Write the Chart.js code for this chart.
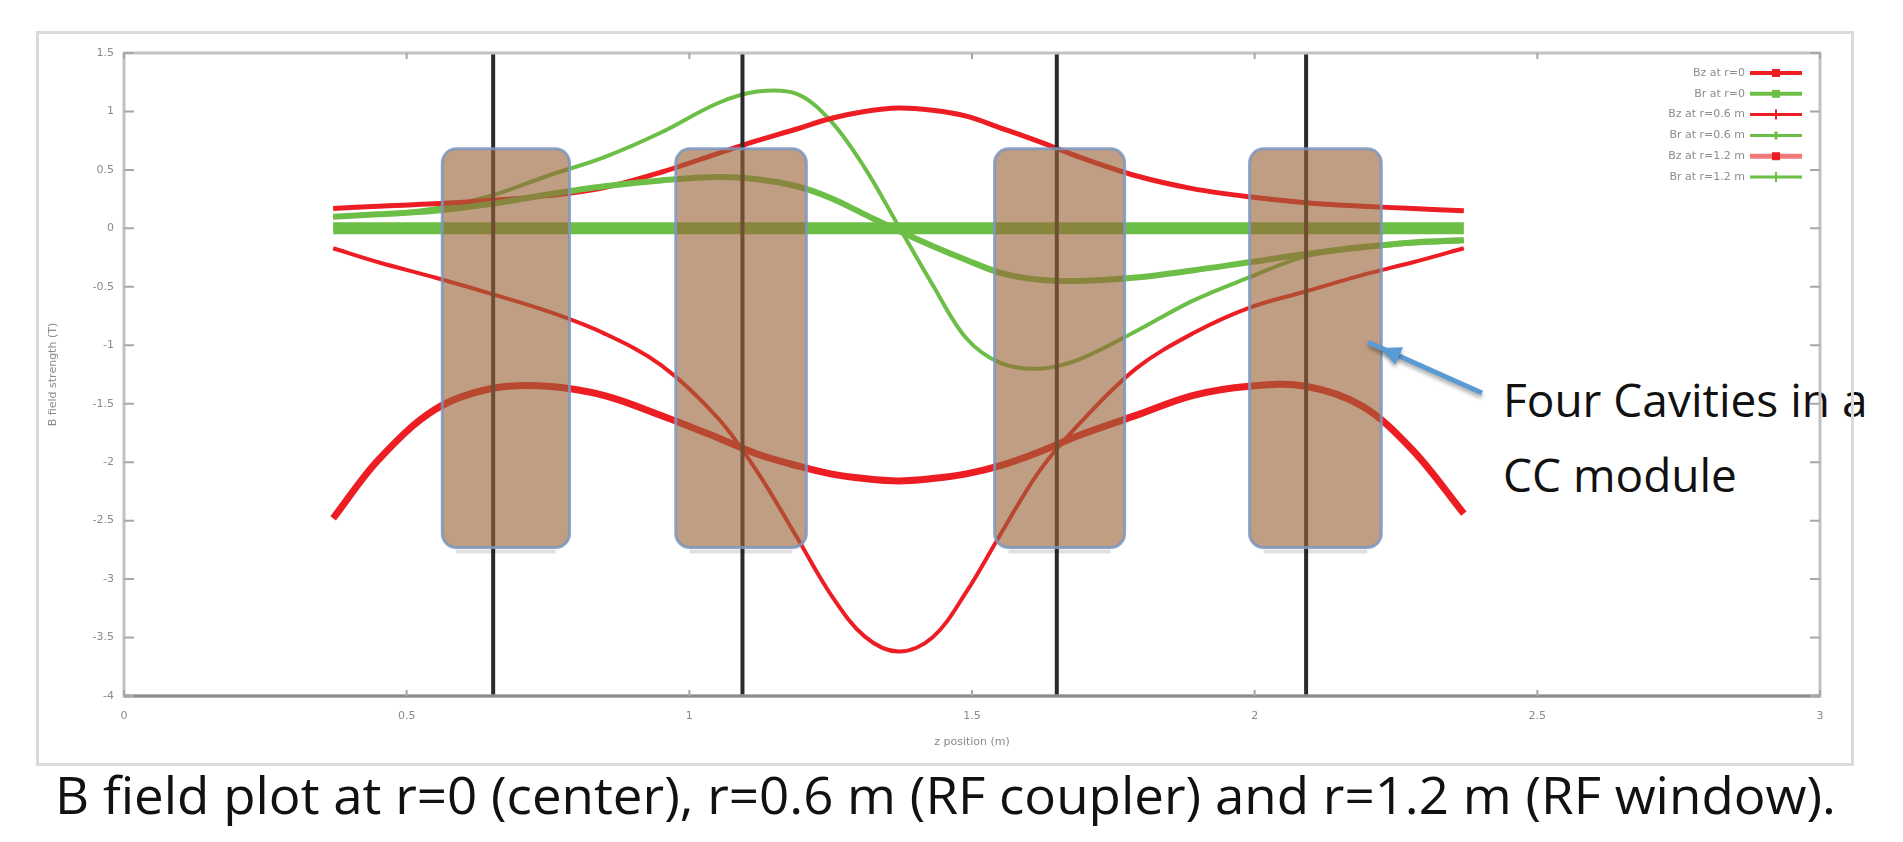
<!DOCTYPE html>
<html>
<head>
<meta charset="utf-8">
<title>B field plot</title>
<script src="https://cdn.jsdelivr.net/npm/chart.js@4.4.0/dist/chart.umd.min.js"></script>
<style>
  html, body { margin: 0; padding: 0; background: #fff; }
  body { width: 1903px; height: 842px; position: relative; overflow: hidden; font-family: "Open Sans", sans-serif; }
  #note { position: absolute; left: 1503px; top: 362px; font-size: 46px; line-height: 75px; color: #111; white-space: nowrap; }
  #wrap { position: absolute; left: 0; top: 0; width: 1903px; height: 842px; }
  #frame { position: absolute; left: 36px; top: 31px; width: 1812px; height: 729px; border: 3px solid #dadada; pointer-events: none; }
  #caption { position: absolute; left: 55px; top: 764px; font-size: 52px; line-height: 60px; color: #111; white-space: nowrap; transform-origin: left top; }
</style>
</head>
<body>
<div id="note">Four Cavities in a<br>CC module</div>
<div id="wrap"><canvas id="myChart" width="1903" height="842"></canvas></div>
<div id="frame"></div>
<div id="caption">B field plot at r=0 (center), r=0.6 m (RF coupler) and r=1.2 m (RF window).</div>
<script>
const zPos = [0.37, 0.45, 0.55, 0.65, 0.75, 0.85, 0.95, 1.05, 1.12, 1.19, 1.25, 1.31, 1.37,
              1.43, 1.49, 1.55, 1.62, 1.69, 1.79, 1.89, 1.99, 2.09, 2.19, 2.28, 2.37];

// field strength (T)
const bzR0  = [-2.48, -1.98, -1.55, -1.37, -1.35, -1.43, -1.60, -1.79, -1.93, -2.03, -2.10, -2.14, -2.16,
               -2.14, -2.10, -2.03, -1.91, -1.77, -1.60, -1.43, -1.35, -1.35, -1.52, -1.90, -2.44];
const brR0  = [0, 0, 0, 0, 0, 0, 0, 0, 0, 0, 0, 0, 0,
               0, 0, 0, 0, 0, 0, 0, 0, 0, 0, 0, 0];
const bzR06 = [-0.17, -0.29, -0.42, -0.56, -0.71, -0.90, -1.17, -1.62, -2.08, -2.64, -3.13, -3.49, -3.62,
               -3.50, -3.11, -2.62, -2.07, -1.67, -1.20, -0.90, -0.68, -0.54, -0.40, -0.29, -0.17];
const brR06 = [0.10, 0.12, 0.15, 0.21, 0.29, 0.36, 0.41, 0.44, 0.42, 0.36, 0.26, 0.12, -0.02,
               -0.15, -0.27, -0.38, -0.44, -0.45, -0.42, -0.36, -0.29, -0.22, -0.16, -0.12, -0.10];
const bzR12 = [0.17, 0.19, 0.21, 0.24, 0.28, 0.35, 0.48, 0.64, 0.75, 0.85, 0.94, 1.00, 1.03,
               1.01, 0.96, 0.86, 0.74, 0.61, 0.45, 0.34, 0.27, 0.22, 0.19, 0.17, 0.15];
const brR12 = [0.10, 0.12, 0.17, 0.28, 0.45, 0.61, 0.82, 1.07, 1.17, 1.15, 0.92, 0.52, 0.02,
               -0.48, -0.94, -1.15, -1.20, -1.12, -0.88, -0.62, -0.42, -0.24, -0.17, -0.13, -0.11];

const seriesLabels = ['Bz at r=0', 'Br at r=0', 'Bz at r=0.6 m', 'Br at r=0.6 m', 'Bz at r=1.2 m', 'Br at r=1.2 m'];

// cavity outlines and the black marker lines (in data units)
const cavityZ = [[0.563, 0.788], [0.976, 1.207], [1.540, 1.770], [1.991, 2.224]];
const cavityB = [-2.73, 0.68];
const markerZ = [0.653, 1.094, 1.650, 2.091];

const RED = 'rgb(236,30,36)';
const GREEN = 'rgb(108,190,70)';

const pts = arr => zPos.map((z, i) => ({ x: z, y: arr[i] }));
const fmt = v => String(Math.round(v * 10) / 10);

const series = [
  { data: bzR0,  color: RED,   width: 7,  legendWidth: 4, marker: 'square' },
  { data: brR0,  color: GREEN, width: 12, legendWidth: 4, marker: 'square' },
  { data: bzR06, color: RED,   width: 4,  legendWidth: 3, marker: 'plus' },
  { data: brR06, color: GREEN, width: 6,  legendWidth: 3, marker: 'bar' },
  { data: bzR12, color: RED,   width: 5,  legendWidth: 5, marker: 'square', legendColor: 'rgb(244,120,120)' },
  { data: brR12, color: GREEN, width: 4,  legendWidth: 3, marker: 'plus' }
];

const extras = {
  id: 'extras',
  afterDatasetsDraw(chart) {
    const { ctx, chartArea: a, scales: { x, y } } = chart;
    ctx.save();

    // black vertical lines
    ctx.strokeStyle = '#2a2a2a';
    ctx.lineWidth = 4;
    markerZ.forEach(z => {
      const px = x.getPixelForValue(z);
      ctx.beginPath();
      ctx.moveTo(px, a.top);
      ctx.lineTo(px, a.bottom);
      ctx.stroke();
    });

    // cavities
    cavityZ.forEach(([z0, z1]) => {
      const l = x.getPixelForValue(z0), r = x.getPixelForValue(z1);
      const t = y.getPixelForValue(cavityB[1]), b = y.getPixelForValue(cavityB[0]);
      // soft shadow under the bottom edge only
      ctx.strokeStyle = 'rgba(0,0,0,0.12)';
      ctx.lineWidth = 4;
      ctx.beginPath();
      ctx.moveTo(l + 14, b + 4);
      ctx.lineTo(r - 14, b + 4);
      ctx.stroke();

      ctx.beginPath();
      ctx.roundRect(l, t, r - l, b - t, 14);
      ctx.fillStyle = 'rgba(153,98,56,0.62)';
      ctx.fill();
      ctx.strokeStyle = 'rgba(125,150,190,0.85)';
      ctx.lineWidth = 3;
      ctx.stroke();
    });

    // plot box
    ctx.lineWidth = 3;
    ctx.strokeStyle = '#c2c2c2';
    ctx.strokeRect(a.left, a.top, a.right - a.left, a.bottom - a.top);
    ctx.strokeStyle = '#8a8a8a';
    ctx.beginPath();
    ctx.moveTo(a.left, a.bottom);
    ctx.lineTo(a.right, a.bottom);
    ctx.stroke();

    // inward ticks
    ctx.strokeStyle = '#a8a8a8';
    ctx.lineWidth = 2;
    y.ticks.forEach(t => {
      const py = y.getPixelForValue(t.value);
      ctx.beginPath();
      ctx.moveTo(a.left, py); ctx.lineTo(a.left + 10, py);
      ctx.moveTo(a.right - 10, py); ctx.lineTo(a.right, py);
      ctx.stroke();
    });
    x.ticks.forEach(t => {
      const px = x.getPixelForValue(t.value);
      ctx.beginPath();
      ctx.moveTo(px, a.bottom); ctx.lineTo(px, a.bottom - 6);
      ctx.moveTo(px, a.top); ctx.lineTo(px, a.top + 6);
      ctx.stroke();
    });
    ctx.restore();
  },
  afterDraw(chart) {
    const { ctx, chartArea: a } = chart;
    ctx.save();

    // legend, top right inside the plot
    ctx.font = '11px "DejaVu Sans"';
    ctx.textAlign = 'right';
    ctx.textBaseline = 'middle';
    series.forEach((s, i) => {
      const yy = a.top + 20 + i * 20.8;
      const x1 = a.right - 70, x2 = a.right - 18, xm = (x1 + x2) / 2;
      ctx.fillStyle = '#8c8c8c';
      ctx.fillText(seriesLabels[i], x1 - 5, yy);
      ctx.strokeStyle = s.legendColor || s.color;
      ctx.lineWidth = s.legendWidth;
      ctx.beginPath();
      ctx.moveTo(x1, yy); ctx.lineTo(x2, yy);
      ctx.stroke();
      ctx.fillStyle = s.color;
      ctx.strokeStyle = s.color;
      if (s.marker === 'square') {
        ctx.fillRect(xm - 4, yy - 4, 8, 8);
      } else if (s.marker === 'plus') {
        ctx.lineWidth = 2;
        ctx.beginPath();
        ctx.moveTo(xm, yy - 5); ctx.lineTo(xm, yy + 5);
        ctx.stroke();
      } else {
        ctx.lineWidth = 3;
        ctx.beginPath();
        ctx.moveTo(xm, yy - 4); ctx.lineTo(xm, yy + 4);
        ctx.stroke();
      }
    });

    // arrow pointing at the last cavity
    const tail = { x: 1482, y: 393 }, head = { x: 1381, y: 348 };
    const ang = Math.atan2(head.y - tail.y, head.x - tail.x);
    ctx.shadowColor = 'rgba(0,0,0,0.35)';
    ctx.shadowBlur = 4;
    ctx.shadowOffsetY = 3;
    ctx.strokeStyle = 'rgb(91,155,213)';
    ctx.fillStyle = 'rgb(91,155,213)';
    ctx.lineWidth = 5;
    ctx.beginPath();
    ctx.moveTo(tail.x, tail.y);
    ctx.lineTo(head.x + 14 * Math.cos(ang), head.y + 14 * Math.sin(ang));
    ctx.stroke();
    ctx.beginPath();
    ctx.moveTo(head.x, head.y);
    ctx.lineTo(head.x - 22 * Math.cos(ang - 0.45), head.y - 22 * Math.sin(ang - 0.45));
    ctx.lineTo(head.x - 22 * Math.cos(ang + 0.45), head.y - 22 * Math.sin(ang + 0.45));
    ctx.closePath();
    ctx.fill();
    ctx.restore();
  }
};

const ctx = document.getElementById('myChart').getContext('2d');

const data = {
  datasets: series.map((s, i) => ({
    label: seriesLabels[i],
    data: pts(s.data),
    borderColor: s.color,
    borderWidth: s.width,
    pointRadius: 0,
    tension: 0.35,
    fill: false
  }))
};

const myChart = new Chart(ctx, {
  type: 'line',
  data: data,
  options: {
    responsive: false,
    animation: false,
    devicePixelRatio: 1,
    layout: { padding: { left: 0, top: 53, right: 83, bottom: 90 } },
    plugins: { legend: { display: false }, tooltip: { enabled: false } },
    scales: {
      x: {
        type: 'linear',
        min: 0,
        max: 3,
        ticks: { stepSize: 0.5, padding: 14, color: '#8a8a8a', font: { family: 'DejaVu Sans', size: 11 }, callback: fmt },
        grid: { display: false, drawTicks: false },
        border: { display: false },
        title: { display: true, text: 'z position (m)', color: '#8a8a8a', padding: { bottom: 3, top: 0 }, font: { family: 'DejaVu Sans', size: 11 } },
        afterFit: s => { s.height = 56; }
      },
      y: {
        min: -4,
        max: 1.5,
        ticks: { stepSize: 0.5, padding: 10, color: '#8a8a8a', font: { family: 'DejaVu Sans', size: 11 }, callback: fmt },
        grid: { display: false, drawTicks: false },
        border: { display: false },
        title: { display: true, text: 'B field strength (T)', color: '#8a8a8a', padding: { top: 47, bottom: 0 }, font: { family: 'DejaVu Sans', size: 11 } },
        afterFit: s => { s.width = 124; }
      }
    }
  },
  plugins: [extras]
});

// squeeze the caption to the width it has in the figure
const cap = document.getElementById('caption');
const capW = cap.getBoundingClientRect().width;
cap.style.transform = 'scaleX(' + (1781 / capW) + ')';
</script>
</body>
</html>
